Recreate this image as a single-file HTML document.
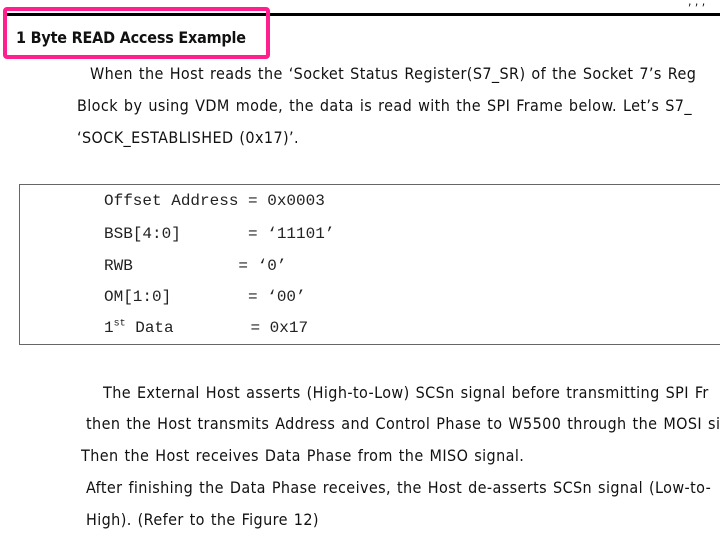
<!DOCTYPE html>
<html><head><meta charset="utf-8"><style>
body{margin:0;width:720px;height:540px;overflow:hidden;background:#fff;position:relative;font-family:"DejaVu Sans Condensed","Liberation Sans",sans-serif;color:#111}
.t{position:absolute;white-space:nowrap;font-size:16px;letter-spacing:0.4px;word-spacing:1px;line-height:18px}
.m{position:absolute;white-space:pre;font-family:"Liberation Mono",monospace;font-size:16px;line-height:18px;color:#222}
</style></head><body>
<div style="position:absolute;left:5px;top:13px;width:715px;height:3px;background:#000"></div>
<div style="position:absolute;left:688px;top:-6px;font-size:12px">, , ,</div>
<div style="position:absolute;left:3px;top:7px;width:259px;height:44px;border:4px solid #ff1f8e;border-radius:4px"></div>
<div class="t" style="left:16px;top:29px;font-weight:bold;font-size:16px;letter-spacing:-0.2px;word-spacing:0">1 Byte READ Access Example</div>
<div class="t" style="left:90px;top:65px">When the Host reads the ‘Socket Status Register(S7_SR) of the Socket 7’s Reg</div>
<div class="t" style="left:77px;top:97px">Block by using VDM mode, the data is read with the SPI Frame below. Let’s S7_</div>
<div class="t" style="left:77px;top:129px">‘SOCK_ESTABLISHED (0x17)’.</div>
<div style="position:absolute;left:19px;top:184px;width:701px;height:159px;border:1px solid #666;border-right:none"></div>
<div class="m" style="left:104px;top:192px">Offset Address = 0x0003</div>
<div class="m" style="left:104px;top:225px">BSB[4:0]       = ‘11101’</div>
<div class="m" style="left:104px;top:257px">RWB           = ‘0’</div>
<div class="m" style="left:104px;top:288px">OM[1:0]        = ‘00’</div>
<div class="m" style="left:104px;top:319px">1<sup style="font-size:10px;line-height:0">st</sup> Data        = 0x17</div>
<div class="t" style="left:103px;top:384px">The External Host asserts (High-to-Low) SCSn signal before transmitting SPI Fr</div>
<div class="t" style="left:86px;top:415px">then the Host transmits Address and Control Phase to W5500 through the MOSI si</div>
<div class="t" style="left:81px;top:447px">Then the Host receives Data Phase from the MISO signal.</div>
<div class="t" style="left:86px;top:479px">After finishing the Data Phase receives, the Host de-asserts SCSn signal (Low-to-</div>
<div class="t" style="left:86px;top:511px">High). (Refer to the Figure 12)</div>
</body></html>
